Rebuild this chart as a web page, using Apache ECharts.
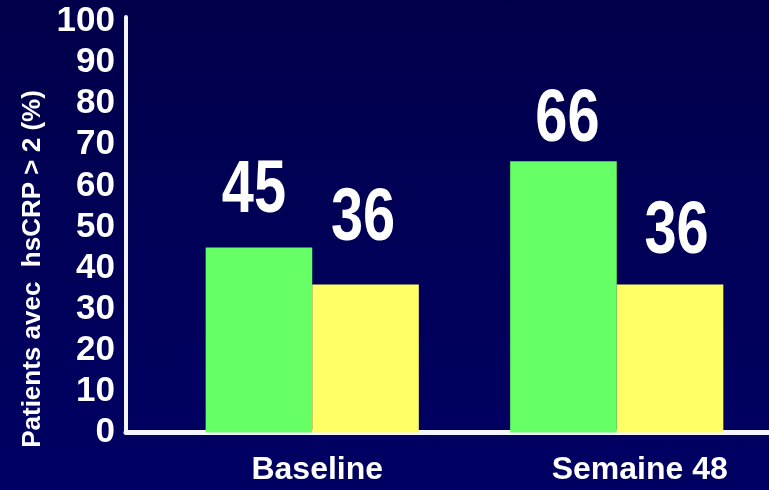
<!DOCTYPE html>
<html>
<head>
<meta charset="utf-8">
<script src="https://cdn.jsdelivr.net/npm/echarts@6/dist/echarts.min.js"></script>
<style>
  html, body { margin: 0; padding: 0; }
  #chart {
    width: 769px; height: 490px;
    background: linear-gradient(to bottom, #00004a 0%, #000058 50%, #000064 100%);
  }
</style>
</head>
<body>
<div id="chart"></div>
<script>
// Share of patients with hsCRP > 2, at baseline and week 48
const categories = ['Baseline', 'Semaine 48'];
const greenValues = [45, 66];
const yellowValues = [36, 36];
const yTicks = [0, 10, 20, 30, 40, 50, 60, 70, 80, 90, 100];

const sans = '"Liberation Sans", Arial, Helvetica, sans-serif';
const barCategoryGap = 0.30;

// value-label placement: lift above the bar top and horizontal nudge, per bar
const greenLabelPos = [{ lift: 56, dx: -5 }, { lift: 41, dx: 4 }];
const yellowLabelPos = [{ lift: 65, dx: -2.5 }, { lift: 52, dx: 6.5 }];

// rows for the value labels: [categoryIndex, value, seriesIndex]
const labelRows = [];
greenValues.forEach((v, i) => labelRows.push([i, v, 0]));
yellowValues.forEach((v, i) => labelRows.push([i, v, 1]));

const chart = echarts.init(document.getElementById('chart'), null, { renderer: 'canvas' });
chart.setOption({
  backgroundColor: 'transparent',
  animation: false,
  grid: [
    // bar area
    { left: 160, right: -2, top: 21.5, bottom: 57.5 },
    // axis frame
    { left: 126, right: 0, top: 17, bottom: 57.5 }
  ],
  xAxis: [
    {
      type: 'category',
      gridIndex: 0,
      data: [
        { value: categories[0], textStyle: { padding: [0, 0, 0, 10] } },
        { value: categories[1], textStyle: { padding: [0, 0, 0, 46] } }
      ],
      axisLine: { show: false },
      axisTick: { show: false },
      axisLabel: {
        color: '#ffffff',
        fontFamily: sans,
        fontWeight: 'bold',
        fontSize: 32,
        margin: 22
      }
    },
    {
      type: 'value',
      gridIndex: 1,
      min: 0, max: 1,
      axisLine: { show: true, lineStyle: { color: '#f4f4ff', width: 5 } },
      axisTick: { show: false },
      axisLabel: { show: false },
      splitLine: { show: false }
    }
  ],
  yAxis: [
    {
      type: 'value',
      gridIndex: 0,
      min: yTicks[0],
      max: yTicks[yTicks.length - 1],
      interval: yTicks[1] - yTicks[0],
      offset: 34,
      name: 'Patients avec  hsCRP > 2 (%)',
      nameLocation: 'middle',
      nameGap: 80,
      nameRotate: 90,
      nameTextStyle: {
        color: '#ffffff',
        fontFamily: sans,
        fontWeight: 'bold',
        fontSize: 26,
        padding: [0, 84, 0, 0]
      },
      axisLine: { show: false },
      axisTick: { show: false },
      splitLine: { show: false },
      axisLabel: {
        color: '#ffffff',
        fontFamily: sans,
        fontWeight: 'bold',
        fontSize: 35,
        margin: 11
      }
    },
    {
      type: 'value',
      gridIndex: 1,
      min: 0, max: 1,
      axisLine: { show: true, lineStyle: { color: '#f4f4ff', width: 4 } },
      axisTick: { show: false },
      axisLabel: { show: false },
      splitLine: { show: false }
    }
  ],
  series: [
    {
      type: 'bar',
      xAxisIndex: 0,
      yAxisIndex: 0,
      data: greenValues,
      itemStyle: { color: '#66ff66' },
      barGap: '0%',
      barCategoryGap: (barCategoryGap * 100) + '%'
    },
    {
      type: 'bar',
      xAxisIndex: 0,
      yAxisIndex: 0,
      data: yellowValues,
      itemStyle: { color: '#ffff66' }
    },
    {
      // large condensed value labels above each bar
      type: 'custom',
      xAxisIndex: 0,
      yAxisIndex: 0,
      z: 10,
      clip: false,
      data: labelRows,
      renderItem: function (params, api) {
        const cat = api.value(0);
        const val = api.value(1);
        const s = api.value(2);
        const top = api.coord([cat, val]);
        const band = api.size([1, 0])[0];
        const barW = band * (1 - barCategoryGap) / 2;
        const pos = (s === 0 ? greenLabelPos : yellowLabelPos)[cat];
        return {
          type: 'text',
          x: top[0] + (s === 0 ? -barW / 2 : barW / 2) + pos.dx,
          y: top[1] - pos.lift,
          scaleX: 0.77,
          style: {
            text: String(val),
            x: 0,
            y: 0,
            align: 'center',
            verticalAlign: 'middle',
            fill: '#ffffff',
            font: 'bold 75px "Liberation Sans", Arial, sans-serif'
          }
        };
      }
    }
  ]
});
</script>
</body>
</html>
